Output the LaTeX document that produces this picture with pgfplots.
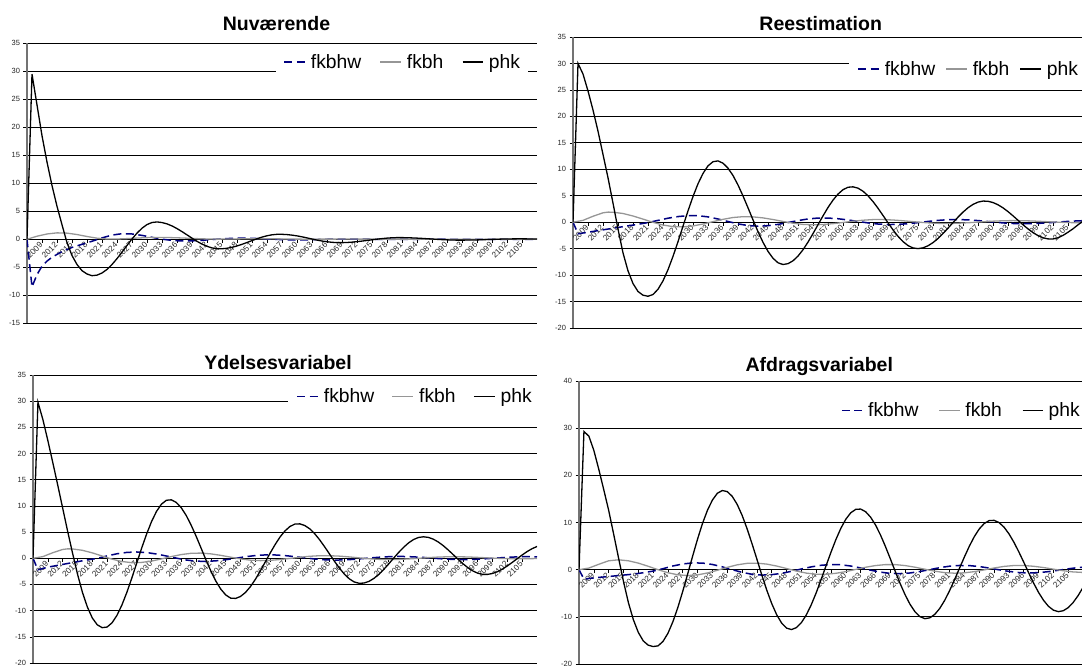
\documentclass[border=0pt]{standalone}
\usepackage{fontspec}
\setmainfont{Liberation Sans}
\usepackage{pgfplots}
\pgfplotsset{compat=1.18}

\definecolor{fkbhwcol}{RGB}{0,0,128}
\definecolor{fkbhcol}{RGB}{150,150,150}
\newcommand\yticksize{\fontsize{7.5}{8}\selectfont}
\newcommand\xticksize{\fontsize{8.2}{9}\selectfont}
\newcommand\legsize{\fontsize{19.3}{22}\selectfont}
\newcommand\titlesize{\fontsize{19.5}{22}\selectfont\bfseries}

\pgfplotsset{
  panel/.style={
    scale only axis, anchor=south west,
    xmin=2006, xmax=2108,
    axis x line*=middle, axis y line*=left,
    x axis line style={black, line width=0.8pt},
    y axis line style={black!55, line width=1.2pt},
    xtick={2006,2009,...,2105},
    minor x tick num=2,
    tick align=outside,
    major tick length=3.5pt, minor tick length=3.5pt,
    tick style={black, line width=0.6pt},
    xticklabel style={rotate=45, anchor=east, font=\xticksize, text=black!85,
      /pgf/number format/1000 sep={}, inner sep=1pt},
    yticklabel style={font=\yticksize, text=black!85},
    /pgf/number format/assume math mode=true,
    ymajorgrids, major grid style={black, line width=0.7pt},
    legend columns=3,
    legend entries={fkbhw,fkbh,phk},
    legend image code/.code={\draw[##1] (0pt,0pt) -- (20.7pt,0pt);},
    legend style={draw=none, fill=white, font=\legsize, anchor=center,
      inner xsep=8pt, inner ysep=3pt, nodes={inner sep=0pt}},
  },
  s-fkbhw/.style={fkbhwcol, line width=1.5pt, dash pattern=on 8pt off 4.5pt},
  s-fkbh/.style={fkbhcol, line width=1.3pt},
  s-phk/.style={black, line width=1.3pt},
}

\begin{document}
\begin{tikzpicture}
\useasboundingbox (0,0) rectangle (1082pt,666pt);

% ---------------- Nuværende ----------------
\begin{axis}[panel, at={(27pt,342.7pt)}, width=510pt, height=280pt,
  ymin=-15, ymax=35, ytick={-15,-10,...,35},
  legend style={at={(0.735,0.933)},
    /tikz/every odd column/.style={column sep=5.1pt},
    /tikz/every even column/.style={column sep=18.5pt}}]
\addplot[s-fkbhw] coordinates {(2006,0) (2007,-8.5) (2008,-6.3) (2009,-4.8) (2010,-3.9) (2011,-3.2) (2013,-2.2) (2015,-1.45) (2017,-0.9) (2019,-0.35) (2021,0.25) (2023,0.75) (2025,1.0) (2027,0.95) (2029,0.7) (2031,0.35) (2033,0.02) (2035,-0.2) (2037,-0.3) (2039,-0.28) (2041,-0.18) (2043,-0.05) (2045,0.08) (2047,0.17) (2049,0.2) (2051,0.17) (2053,0.1) (2055,0.02) (2057,-0.06) (2059,-0.1) (2061,-0.1) (2063,-0.07) (2065,-0.02) (2067,0.03) (2069,0.05) (2071,0.05) (2073,0.03) (2075,0.0) (2077,-0.02) (2079,-0.03) (2081,-0.02) (2083,0.0) (2085,0.01) (2089,0.01) (2095,0) (2108,0)};
\addplot[s-fkbh] coordinates {(2006,0) (2008,0.55) (2010,0.95) (2012,1.15) (2014,1.1) (2016,0.85) (2018,0.5) (2020,0.2) (2022,0.05) (2024,0.05) (2026,0.12) (2028,0.22) (2030,0.3) (2032,0.33) (2034,0.32) (2036,0.27) (2038,0.2) (2040,0.12) (2042,0.06) (2044,0.03) (2046,0.04) (2048,0.07) (2050,0.1) (2052,0.11) (2054,0.1) (2056,0.08) (2058,0.05) (2060,0.03) (2062,0.02) (2066,0.03) (2070,0.04) (2074,0.03) (2078,0.02) (2084,0.01) (2090,0.01) (2100,0) (2108,0)};
\addplot[s-phk] coordinates {(2006,0) (2007,29.5) (2008,24) (2009,18.5) (2010,13.8) (2011,9.6) (2012,5.9) (2013,2.6) (2014,-0.6) (2015,-2.9) (2016,-4.5) (2017,-5.6) (2018,-6.2) (2019,-6.5) (2020,-6.4) (2021,-6.02) (2022,-5.38) (2023,-4.5) (2024,-3.45) (2025,-2.3) (2026,-1.1) (2027,0.06) (2028,1.1) (2029,1.98) (2030,2.63) (2031,3.0) (2032,3.1) (2033,2.99) (2034,2.75) (2035,2.39) (2036,1.91) (2037,1.37) (2038,0.79) (2039,0.2) (2040,-0.36) (2041,-0.86) (2042,-1.25) (2043,-1.54) (2044,-1.68) (2045,-1.69) (2046,-1.6) (2047,-1.43) (2048,-1.19) (2049,-0.9) (2050,-0.57) (2051,-0.23) (2052,0.1) (2053,0.39) (2054,0.63) (2055,0.8) (2056,0.89) (2057,0.89) (2058,0.84) (2059,0.74) (2060,0.61) (2061,0.44) (2062,0.25) (2063,0.05) (2064,-0.14) (2065,-0.31) (2066,-0.44) (2067,-0.54) (2068,-0.59) (2069,-0.6) (2070,-0.57) (2071,-0.51) (2072,-0.42) (2073,-0.32) (2074,-0.21) (2075,-0.09) (2076,0.02) (2077,0.12) (2078,0.21) (2079,0.27) (2080,0.3) (2081,0.3) (2082,0.28) (2083,0.25) (2084,0.21) (2085,0.16) (2086,0.1) (2087,0.05) (2088,-0.01) (2089,-0.06) (2090,-0.1) (2091,-0.13) (2092,-0.15) (2093,-0.15) (2094,-0.14) (2095,-0.13) (2096,-0.11) (2097,-0.08) (2098,-0.05) (2099,-0.02) (2100,0.01) (2101,0.04) (2102,0.06) (2103,0.07) (2104,0.08) (2105,0.08) (2106,0.07) (2107,0.06) (2108,0.04)};
\end{axis}

% ---------------- Reestimation ----------------
\begin{axis}[panel, at={(573pt,338pt)}, width=510pt, height=291pt,
  ymin=-20, ymax=35, ytick={-20,-15,...,35},
  legend style={at={(0.774,0.890)},
    /tikz/every odd column/.style={column sep=5.2pt},
    /tikz/every even column/.style={column sep=10.4pt}}]
\addplot[s-fkbhw] coordinates {(2006,0) (2007,-2.2) (2009,-1.9) (2011,-1.6) (2013,-1.3) (2015,-1.0) (2017,-0.7) (2019,-0.4) (2021,-0.08) (2023,0.34) (2025,0.75) (2027,1.06) (2029,1.23) (2030,1.25) (2031,1.22) (2033,1.0) (2035,0.6) (2037,0.13) (2039,-0.32) (2041,-0.64) (2043,-0.75) (2045,-0.66) (2047,-0.42) (2049,-0.07) (2051,0.3) (2053,0.61) (2055,0.78) (2057,0.78) (2059,0.65) (2061,0.42) (2063,0.14) (2065,-0.14) (2067,-0.35) (2069,-0.45) (2071,-0.42) (2073,-0.29) (2075,-0.09) (2077,0.14) (2079,0.34) (2081,0.47) (2083,0.5) (2085,0.43) (2087,0.3) (2089,0.12) (2091,-0.06) (2093,-0.21) (2095,-0.29) (2097,-0.29) (2099,-0.23) (2101,-0.12) (2103,0.02) (2105,0.15) (2107,0.25) (2108,0.28)};
\addplot[s-fkbh] coordinates {(2006,0) (2008,0.34) (2010,1.12) (2012,1.77) (2013,1.9) (2014,1.88) (2016,1.64) (2018,1.17) (2020,0.58) (2022,-0.03) (2024,-0.54) (2026,-0.84) (2028,-0.89) (2030,-0.71) (2032,-0.35) (2034,0.1) (2036,0.54) (2038,0.88) (2040,1.04) (2042,1.0) (2044,0.81) (2046,0.5) (2048,0.14) (2050,-0.19) (2052,-0.42) (2054,-0.5) (2056,-0.44) (2058,-0.28) (2060,-0.06) (2062,0.18) (2064,0.37) (2066,0.49) (2068,0.49) (2070,0.41) (2072,0.27) (2074,0.1) (2076,-0.06) (2078,-0.19) (2080,-0.25) (2082,-0.23) (2084,-0.16) (2086,-0.05) (2088,0.07) (2090,0.19) (2092,0.27) (2094,0.3) (2096,0.28) (2098,0.22) (2100,0.13) (2102,0.04) (2104,-0.04) (2106,-0.09) (2108,-0.1)};
\addplot[s-phk] coordinates {(2006,0) (2007,30.0) (2008,28.0) (2009,24.8) (2010,21.2) (2011,17.2) (2012,12.8) (2013,8.4) (2014,3.6) (2015,-1.3) (2016,-5.8) (2017,-9.2) (2018,-11.6) (2019,-13.1) (2020,-13.8) (2021,-14.0) (2022,-13.67) (2023,-12.68) (2024,-11.09) (2025,-8.98) (2026,-6.46) (2027,-3.69) (2028,-0.76) (2029,2.13) (2030,4.85) (2031,7.26) (2032,9.21) (2033,10.64) (2034,11.43) (2035,11.58) (2036,11.15) (2037,10.21) (2038,8.82) (2039,7.03) (2040,4.96) (2041,2.72) (2042,0.43) (2043,-1.79) (2044,-3.81) (2045,-5.52) (2046,-6.82) (2047,-7.68) (2048,-8.0) (2049,-7.84) (2050,-7.3) (2051,-6.41) (2052,-5.21) (2053,-3.77) (2054,-2.16) (2055,-0.48) (2056,1.19) (2057,2.78) (2058,4.17) (2059,5.31) (2060,6.14) (2061,6.6) (2062,6.68) (2063,6.43) (2064,5.85) (2065,4.99) (2066,3.89) (2067,2.63) (2068,1.27) (2069,-0.12) (2070,-1.45) (2071,-2.67) (2072,-3.67) (2073,-4.42) (2074,-4.87) (2075,-5.0) (2076,-4.85) (2077,-4.46) (2078,-3.86) (2079,-3.08) (2080,-2.15) (2081,-1.13) (2082,-0.08) (2083,0.95) (2084,1.9) (2085,2.72) (2086,3.36) (2087,3.79) (2088,3.99) (2089,3.95) (2090,3.71) (2091,3.29) (2092,2.71) (2093,2.0) (2094,1.2) (2095,0.36) (2096,-0.49) (2097,-1.27) (2098,-1.97) (2099,-2.54) (2100,-2.95) (2101,-3.16) (2102,-3.17) (2103,-2.95) (2104,-2.5) (2105,-1.9) (2106,-1.25) (2107,-0.5) (2108,0.2)};
\end{axis}

% ---------------- Ydelsesvariabel ----------------
\begin{axis}[panel, at={(33pt,3pt)}, width=504pt, height=288pt,
  ymin=-20, ymax=35, ytick={-20,-15,...,35},
  legend style={at={(0.756,0.925)},
    /tikz/every odd column/.style={column sep=5.4pt},
    /tikz/every even column/.style={column sep=17.5pt}}]
\addplot[s-fkbhw] coordinates {(2006,0) (2007,-2.2) (2009,-1.7) (2011,-1.35) (2013,-1.0) (2015,-0.65) (2017,-0.32) (2019,-0.02) (2021,0.45) (2023,0.86) (2025,1.12) (2027,1.2) (2029,1.09) (2031,0.81) (2033,0.43) (2035,0.03) (2037,-0.33) (2039,-0.55) (2041,-0.6) (2043,-0.49) (2045,-0.28) (2047,0.0) (2049,0.29) (2051,0.52) (2053,0.64) (2055,0.63) (2057,0.51) (2059,0.31) (2061,0.08) (2063,-0.14) (2065,-0.29) (2067,-0.35) (2069,-0.31) (2071,-0.2) (2073,-0.04) (2075,0.12) (2077,0.26) (2079,0.34) (2081,0.34) (2083,0.27) (2085,0.16) (2087,0.01) (2089,-0.12) (2091,-0.22) (2093,-0.25) (2095,-0.22) (2097,-0.13) (2099,-0.01) (2101,0.12) (2103,0.23) (2105,0.29) (2107,0.29) (2108,0.28)};
\addplot[s-fkbh] coordinates {(2006,0) (2008,0.32) (2010,1.06) (2012,1.68) (2013,1.8) (2014,1.78) (2016,1.52) (2018,1.03) (2020,0.43) (2022,-0.17) (2024,-0.62) (2026,-0.84) (2028,-0.79) (2030,-0.53) (2032,-0.13) (2034,0.32) (2036,0.71) (2038,0.95) (2040,0.99) (2042,0.84) (2044,0.56) (2046,0.21) (2048,-0.12) (2050,-0.36) (2052,-0.45) (2054,-0.4) (2056,-0.24) (2058,-0.03) (2060,0.19) (2062,0.38) (2064,0.49) (2066,0.49) (2068,0.41) (2070,0.26) (2072,0.08) (2074,-0.09) (2076,-0.21) (2078,-0.25) (2080,-0.22) (2082,-0.13) (2084,-0.01) (2086,0.12) (2088,0.23) (2090,0.29) (2092,0.29) (2094,0.25) (2096,0.17) (2098,0.08) (2100,-0.01) (2102,-0.07) (2104,-0.1) (2106,-0.09) (2108,-0.05)};
\addplot[s-phk] coordinates {(2006,0) (2007,29.8) (2008,26.5) (2009,22.5) (2010,18.3) (2011,14.0) (2012,9.6) (2013,5.2) (2014,1.0) (2015,-3.0) (2016,-6.5) (2017,-9.3) (2018,-11.4) (2019,-12.7) (2020,-13.25) (2021,-13.13) (2022,-12.32) (2023,-10.89) (2024,-8.91) (2025,-6.5) (2026,-3.78) (2027,-0.9) (2028,1.96) (2029,4.65) (2030,7.02) (2031,8.96) (2032,10.34) (2033,11.08) (2034,11.16) (2035,10.66) (2036,9.65) (2037,8.19) (2038,6.34) (2039,4.24) (2040,1.98) (2041,-0.3) (2042,-2.45) (2043,-4.35) (2044,-5.89) (2045,-7.0) (2046,-7.61) (2047,-7.67) (2048,-7.29) (2049,-6.53) (2050,-5.42) (2051,-4.03) (2052,-2.43) (2053,-0.72) (2054,1.0) (2055,2.62) (2056,4.07) (2057,5.23) (2058,6.07) (2059,6.53) (2060,6.57) (2061,6.26) (2062,5.63) (2063,4.7) (2064,3.54) (2065,2.22) (2066,0.83) (2067,-0.56) (2068,-1.87) (2069,-3.01) (2070,-3.92) (2071,-4.52) (2072,-4.78) (2073,-4.73) (2074,-4.41) (2075,-3.84) (2076,-3.06) (2077,-2.12) (2078,-1.06) (2079,0.04) (2080,1.11) (2081,2.09) (2082,2.93) (2083,3.57) (2084,3.97) (2085,4.1) (2086,3.99) (2087,3.65) (2088,3.12) (2089,2.43) (2090,1.61) (2091,0.73) (2092,-0.17) (2093,-1.03) (2094,-1.79) (2095,-2.41) (2096,-2.85) (2097,-3.07) (2098,-3.08) (2099,-2.9) (2100,-2.56) (2101,-2.07) (2102,-1.46) (2103,-0.78) (2104,-0.07) (2105,0.63) (2106,1.28) (2107,1.83) (2108,2.25)};
\end{axis}

% ---------------- Afdragsvariabel ----------------
\begin{axis}[panel, at={(579pt,2pt)}, width=504pt, height=283pt,
  ymin=-20, ymax=40, ytick={-20,-10,...,40},
  legend style={at={(0.757,0.895)},
    /tikz/every odd column/.style={column sep=4.8pt},
    /tikz/every even column/.style={column sep=20pt}}]
\addplot[s-fkbhw] coordinates {(2006,0) (2007,-2.0) (2009,-1.75) (2011,-1.55) (2013,-1.35) (2015,-1.15) (2017,-0.95) (2019,-0.65) (2021,-0.3) (2023,0.21) (2025,0.78) (2027,1.21) (2029,1.43) (2031,1.4) (2033,1.1) (2035,0.6) (2037,0.0) (2039,-0.57) (2041,-0.98) (2043,-1.15) (2045,-1.06) (2047,-0.78) (2049,-0.35) (2051,0.14) (2053,0.59) (2055,0.93) (2057,1.09) (2059,1.04) (2061,0.77) (2063,0.36) (2065,-0.11) (2067,-0.52) (2069,-0.79) (2071,-0.84) (2073,-0.7) (2075,-0.39) (2077,0.01) (2079,0.42) (2081,0.74) (2083,0.89) (2085,0.86) (2087,0.66) (2089,0.34) (2091,-0.03) (2093,-0.37) (2095,-0.61) (2097,-0.7) (2099,-0.63) (2101,-0.42) (2103,-0.13) (2105,0.18) (2107,0.44) (2108,0.53)};
\addplot[s-fkbh] coordinates {(2006,0) (2008,0.34) (2010,1.14) (2012,1.88) (2014,2.09) (2016,1.88) (2018,1.39) (2020,0.72) (2022,-0.01) (2024,-0.65) (2026,-1.09) (2028,-1.25) (2030,-1.11) (2032,-0.7) (2034,-0.13) (2036,0.49) (2038,1.02) (2040,1.34) (2042,1.38) (2044,1.18) (2046,0.77) (2048,0.24) (2050,-0.29) (2052,-0.73) (2054,-0.97) (2056,-0.97) (2058,-0.77) (2060,-0.41) (2062,0.05) (2064,0.51) (2066,0.87) (2068,1.07) (2070,1.07) (2072,0.87) (2074,0.52) (2076,0.09) (2078,-0.32) (2080,-0.63) (2082,-0.75) (2084,-0.67) (2086,-0.42) (2088,-0.05) (2090,0.35) (2092,0.69) (2094,0.88) (2096,0.88) (2098,0.72) (2100,0.45) (2102,0.11) (2104,-0.23) (2106,-0.48) (2108,-0.59)};
\addplot[s-phk] coordinates {(2006,0) (2007,29.3) (2008,28.3) (2009,25.3) (2010,21.3) (2011,17.0) (2012,12.6) (2013,7.6) (2014,2.5) (2015,-2.5) (2016,-7.0) (2017,-10.6) (2018,-13.3) (2019,-15.1) (2020,-16.0) (2021,-16.3) (2022,-16.15) (2023,-15.21) (2024,-13.49) (2025,-11.04) (2026,-8.03) (2027,-4.58) (2028,-0.88) (2029,2.88) (2030,6.51) (2031,9.82) (2032,12.6) (2033,14.76) (2034,16.2) (2035,16.78) (2036,16.55) (2037,15.56) (2038,13.86) (2039,11.55) (2040,8.73) (2041,5.56) (2042,2.23) (2043,-1.14) (2044,-4.34) (2045,-7.18) (2046,-9.54) (2047,-11.31) (2048,-12.39) (2049,-12.7) (2050,-12.29) (2051,-11.24) (2052,-9.6) (2053,-7.45) (2054,-4.92) (2055,-2.09) (2056,0.83) (2057,3.71) (2058,6.41) (2059,8.78) (2060,10.7) (2061,12.06) (2062,12.78) (2063,12.85) (2064,12.29) (2065,11.15) (2066,9.49) (2067,7.39) (2068,4.95) (2069,2.32) (2070,-0.36) (2071,-2.96) (2072,-5.33) (2073,-7.36) (2074,-8.92) (2075,-9.96) (2076,-10.39) (2077,-10.21) (2078,-9.48) (2079,-8.23) (2080,-6.52) (2081,-4.45) (2082,-2.13) (2083,0.29) (2084,2.7) (2085,4.98) (2086,7.0) (2087,8.63) (2088,9.78) (2089,10.4) (2090,10.46) (2091,9.99) (2092,9.03) (2093,7.62) (2094,5.84) (2095,3.8) (2096,1.6) (2097,-0.66) (2098,-2.84) (2099,-4.81) (2100,-6.48) (2101,-7.76) (2102,-8.58) (2103,-8.9) (2104,-8.71) (2105,-8.06) (2106,-6.97) (2107,-5.51) (2108,-3.77)};
\end{axis}

% panel titles
\node[font=\titlesize, anchor=base] at (276.5pt,635pt) {Nuværende};
\node[font=\titlesize, anchor=base] at (820.7pt,635.6pt) {Reestimation};
\node[font=\titlesize, anchor=base] at (278pt,296pt) {Ydelsesvariabel};
\node[font=\titlesize, anchor=base] at (819.3pt,294pt) {Afdragsvariabel};
\end{tikzpicture}
\end{document}
